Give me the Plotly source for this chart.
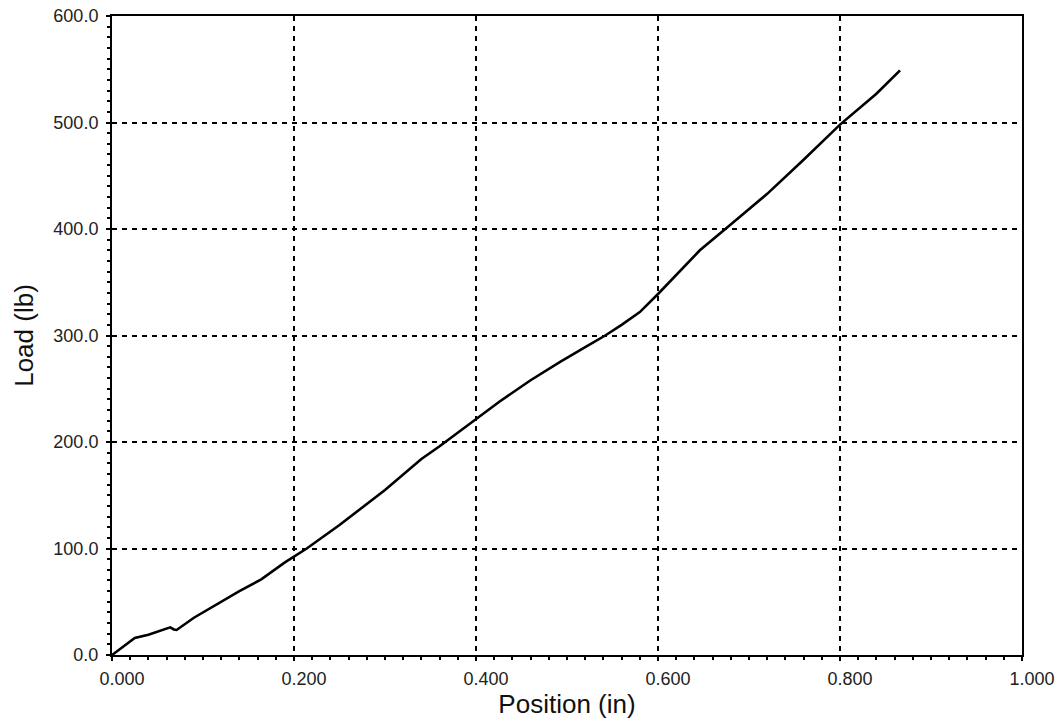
import plotly.graph_objects as go

position_in = [0.000, 0.025, 0.040, 0.055, 0.064, 0.068, 0.071, 0.090, 0.111, 0.140,
               0.164, 0.190, 0.214, 0.250, 0.300, 0.340, 0.360, 0.400, 0.426, 0.460,
               0.492, 0.520, 0.542, 0.560, 0.580, 0.600, 0.620, 0.646, 0.674, 0.720,
               0.760, 0.800, 0.840, 0.866]
load_lb = [0.0, 16.0, 19.0, 23.0, 26.0, 24.0, 23.5, 35.0, 45.5, 60.0,
           71.0, 87.0, 100.0, 122.0, 155.0, 184.0, 196.0, 221.0, 238.0, 258.0,
           275.0, 289.0, 300.0, 310.0, 322.0, 339.0, 357.0, 380.0, 400.0, 433.0,
           465.0, 498.0, 527.0, 549.0]

x_ticks = [0.0, 0.2, 0.4, 0.6, 0.8, 1.0]
x_ticklabels = ["0.000", "0.200", "0.400", "0.600", "0.800", "1.000"]
y_ticks = [0, 100, 200, 300, 400, 500, 600]
y_ticklabels = ["0.0", "100.0", "200.0", "300.0", "400.0", "500.0", "600.0"]

fig = go.Figure()
fig.add_trace(go.Scatter(x=position_in, y=load_lb, mode="lines",
                         line=dict(color="black", width=2.6), showlegend=False))

font_family = "Liberation Sans, Arial, sans-serif"
common = dict(showline=True, linecolor="black", linewidth=2, mirror=True,
              ticks="outside", ticklen=4, tickwidth=2, tickcolor="black",
              showgrid=True, gridcolor="black", gridwidth=2, griddash="5px,5px",
              zeroline=False, automargin=False,
              tickfont=dict(family=font_family, size=18, color="#222"),
              title_font=dict(family=font_family, size=26, color="#111"))

fig.update_xaxes(range=[0, 1.0], tickvals=x_ticks, ticktext=x_ticklabels,
                 title_text="Position (in)", title_standoff=2,
                 ticklabelshift=10, ticklabelstandoff=2,
                 minor=dict(dtick=0.02, ticks="outside", ticklen=3, tickwidth=2,
                            tickcolor="black", showgrid=False),
                 **common)
fig.update_yaxes(range=[0, 600], tickvals=y_ticks, ticktext=y_ticklabels,
                 title_text="Load (lb)", title_standoff=12, ticklabelstandoff=4,
                 minor=dict(dtick=10, ticks="outside", ticklen=3, tickwidth=2,
                            tickcolor="black", showgrid=False),
                 **common)

fig.update_layout(width=1061, height=723,
                  margin=dict(l=112, r=39, t=16, b=68),
                  plot_bgcolor="white", paper_bgcolor="white")

fig.write_html("out.html", config={"displayModeBar": False},
               post_script="document.body.style.margin='0px';document.body.style.overflow='hidden';")
